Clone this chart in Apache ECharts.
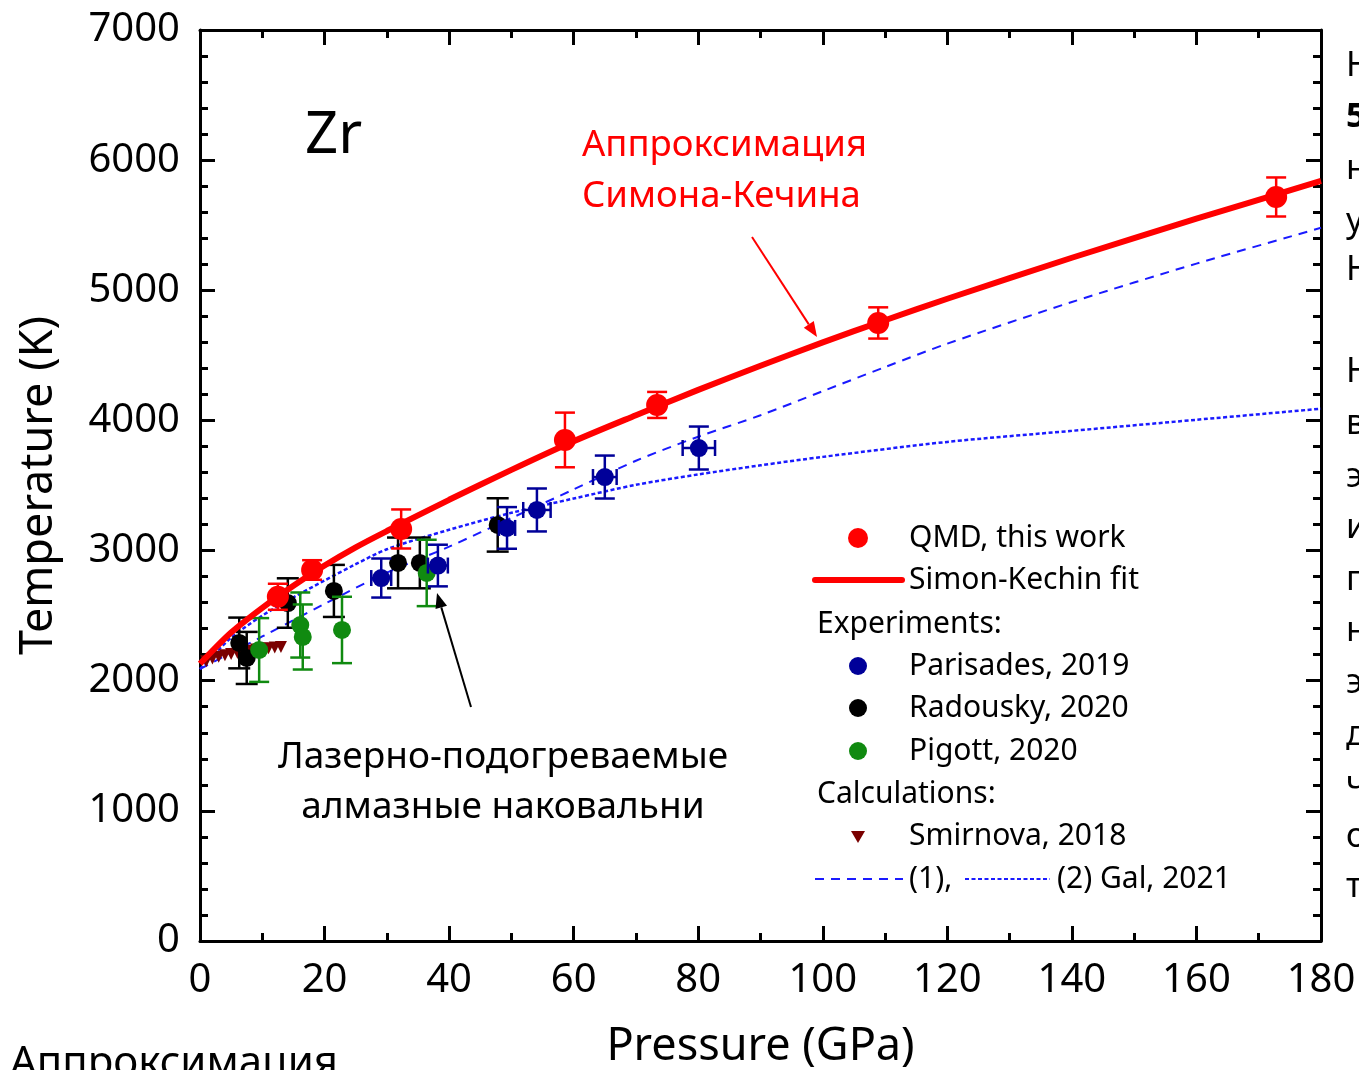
<!DOCTYPE html>
<html><head><meta charset="utf-8">
<script src="https://cdn.jsdelivr.net/npm/echarts@6/dist/echarts.min.js"></script>
<style>html,body{margin:0;padding:0;background:#fff;overflow:hidden}#c{width:1359px;height:1070px}</style>
</head><body><div id="c"></div><script>
// ---- data ----
const qmdP = [12.5, 18.0, 32.3, 58.6, 73.4, 108.9, 172.8];
const qmdT = [2645, 2851, 3166, 3850, 4119, 4749, 5717];
const qmdErr = [100, 75, 150, 210, 100, 120, 150];

const fitP = [0, 5, 10, 15, 20, 25, 30, 40, 50, 60, 70, 80, 90, 100, 110, 120, 140, 160, 180];
const fitT = [2130, 2370, 2560, 2730, 2885, 3025, 3150, 3390, 3620, 3840, 4040, 4235, 4420, 4600, 4770, 4935, 5250, 5550, 5840];

const parP = [29.1, 38.2, 49.3, 54.1, 65.0, 80.1];
const parT = [2789, 2885, 3174, 3312, 3565, 3788];
const parErrP = [1.6, 1.6, 1.3, 2.2, 1.9, 2.6];
const parErrT = [150, 160, 160, 165, 165, 165];

const radP = [6.3, 7.5, 14.1, 21.5, 31.8, 35.3, 47.8];
const radT = [2290, 2175, 2597, 2690, 2905, 2905, 3197];
const radErr = [195, 200, 190, 200, 195, 195, 205];

const pigP = [9.5, 16.1, 16.5, 22.8, 36.4];
const pigT = [2236, 2428, 2336, 2390, 2828];
const pigErr = [245, 250, 250, 255, 255];

const smiP = [1, 2, 3, 4, 5, 6, 7, 8, 9, 10, 11, 12, 13];
const smiT = [2150, 2170, 2185, 2195, 2205, 2215, 2225, 2230, 2240, 2245, 2250, 2255, 2260];

const gal1P = [0, 10, 20, 30, 40, 50, 60, 70, 80, 90, 100, 110, 120, 140, 160, 180];
const gal1T = [2090, 2340, 2590, 2830, 3030, 3250, 3470, 3690, 3875, 4040, 4225, 4410, 4590, 4910, 5205, 5480];

const gal2P = [0, 5, 10, 15, 20, 25, 30, 40, 50, 60, 70, 80, 90, 100, 120, 140, 160, 180];
const gal2T = [2090, 2330, 2500, 2640, 2770, 2895, 3010, 3160, 3290, 3400, 3505, 3585, 3655, 3720, 3835, 3920, 4005, 4090];

// ---- styles ----
const FONT = '"Noto Sans", "DejaVu Sans", sans-serif';
const RED = '#ff0000', NAVY = '#000099', BLK = '#000000', GRN = '#108a10', BRN = '#7a0000', GAL = '#1a1aff';

const chart = echarts.init(document.getElementById('c'), null, {renderer: 'canvas'});

function errBars(color, capW, capH, lw) {
  return function (params, api) {
    const x = api.value(0), y = api.value(1), dx = api.value(2), dy = api.value(3);
    const st = {stroke: color, lineWidth: lw};
    const ch = [];
    if (dy > 0) {
      const a = api.coord([x, y + dy]), b = api.coord([x, y - dy]);
      ch.push({type: 'line', shape: {x1: a[0], y1: a[1], x2: b[0], y2: b[1]}, style: st});
      ch.push({type: 'line', shape: {x1: a[0] - capW / 2, y1: a[1], x2: a[0] + capW / 2, y2: a[1]}, style: st});
      ch.push({type: 'line', shape: {x1: b[0] - capW / 2, y1: b[1], x2: b[0] + capW / 2, y2: b[1]}, style: st});
    }
    if (dx > 0) {
      const l = api.coord([x - dx, y]), r = api.coord([x + dx, y]);
      ch.push({type: 'line', shape: {x1: l[0], y1: l[1], x2: r[0], y2: r[1]}, style: st});
      ch.push({type: 'line', shape: {x1: l[0], y1: l[1] - capH / 2, x2: l[0], y2: l[1] + capH / 2}, style: st});
      ch.push({type: 'line', shape: {x1: r[0], y1: r[1] - capH / 2, x2: r[0], y2: r[1] + capH / 2}, style: st});
    }
    return {type: 'group', children: ch};
  };
}

const zip = (a, b) => a.map((v, i) => [v, b[i]]);

const axisCommon = {
  type: 'value',
  axisLine: {onZero: false, lineStyle: {color: '#000', width: 3}},
  axisTick: {inside: true, length: 15, lineStyle: {color: '#000', width: 3}},
  minorTick: {show: true, length: 8, lineStyle: {color: '#000', width: 3}},
  splitLine: {show: false},
};

function txt(text, x, y, size, color, opts) {
  return {
    type: 'text', z: 100,
    style: {text: text, x: x, y: y, fill: color || '#000', font: (opts && opts.bold ? 'bold ' : '') + size + 'px ' + FONT,
      textAlign: (opts && opts.align) || 'left', textVerticalAlign: 'middle'}
  };
}

const graphics = [];
// Zr label
graphics.push(txt('Zr', 305, 136, 58, '#000'));
// red annotation
graphics.push(txt('Аппроксимация', 582, 146, 36.5, RED));
graphics.push(txt('Симона-Кечина', 582, 197, 36.5, RED));
graphics.push({type: 'line', z: 100, shape: {x1: 752, y1: 237, x2: 808.8, y2: 324.4}, style: {stroke: RED, lineWidth: 2}});
graphics.push({type: 'polygon', z: 100, shape: {points: [[817, 337], [803.8, 327.7], [813.8, 321.1]]}, style: {fill: RED}});
// black annotation
graphics.push(txt('Лазерно-подогреваемые', 503, 757, 37, '#000', {align: 'center'}));
graphics.push(txt('алмазные наковальни', 503, 807, 37, '#000', {align: 'center'}));
graphics.push({type: 'line', z: 100, shape: {x1: 471, y1: 707, x2: 441.3, y2: 607.4}, style: {stroke: '#000', lineWidth: 2}});
graphics.push({type: 'polygon', z: 100, shape: {points: [[437, 593], [447.0, 605.7], [435.5, 609.1]]}, style: {fill: '#000'}});
// legend
graphics.push({type: 'circle', z: 100, shape: {cx: 858, cy: 538, r: 10}, style: {fill: RED}});
graphics.push(txt('QMD, this work', 909, 538, 30));
graphics.push({type: 'line', z: 100, shape: {x1: 815, y1: 580, x2: 902, y2: 580}, style: {stroke: RED, lineWidth: 6, lineCap: 'round'}});
graphics.push(txt('Simon-Kechin fit', 909, 580, 30));
graphics.push(txt('Experiments:', 817, 624, 30));
graphics.push({type: 'circle', z: 100, shape: {cx: 858, cy: 666, r: 9}, style: {fill: NAVY}});
graphics.push(txt('Parisades, 2019', 909, 666, 30));
graphics.push({type: 'circle', z: 100, shape: {cx: 858, cy: 708, r: 9}, style: {fill: BLK}});
graphics.push(txt('Radousky, 2020', 909, 708, 30));
graphics.push({type: 'circle', z: 100, shape: {cx: 858, cy: 751, r: 9}, style: {fill: GRN}});
graphics.push(txt('Pigott, 2020', 909, 751, 30));
graphics.push(txt('Calculations:', 817, 794, 30));
graphics.push({type: 'polygon', z: 100, shape: {points: [[851, 831], [865, 831], [858, 843]]}, style: {fill: BRN}});
graphics.push(txt('Smirnova, 2018', 909, 836, 30));
graphics.push({type: 'line', z: 100, shape: {x1: 815, y1: 879, x2: 903, y2: 879}, style: {stroke: GAL, lineWidth: 2, lineDash: [9, 7]}});
graphics.push(txt('(1),', 909, 879, 30));
graphics.push({type: 'line', z: 100, shape: {x1: 965, y1: 879, x2: 1050, y2: 879}, style: {stroke: GAL, lineWidth: 2, lineDash: [4, 2.5]}});
graphics.push(txt('(2) Gal, 2021', 1057, 879, 30));
// clipped slide text on the right
const sideLetters = ['Н', '5', 'н', 'у', 'Н', 'Н', 'в', 'э', 'и', 'п', 'н', 'э', 'д', 'ч', 'о', 'т'];
const sideY = [66, 117, 169, 222, 270, 372, 424, 477, 528, 580, 631, 683, 735, 785, 837, 887];
sideLetters.forEach((s, i) => graphics.push(txt(s, 1346, sideY[i], 34, '#000', {bold: s === '5'})));
// clipped slide text bottom left
graphics.push(txt('Аппроксимация', 10, 1064, 42, '#000'));

const option = {
  animation: false,
  backgroundColor: '#fff',
  grid: {left: 200, right: 38, top: 30, bottom: 129, containLabel: false, outerBoundsMode: 'none'},
  xAxis: [
    Object.assign({}, axisCommon, {
      min: 0, max: 180, interval: 20, position: 'bottom',
      minorTick: Object.assign({}, axisCommon.minorTick, {splitNumber: 2}),
      axisLabel: {fontSize: 40, color: '#000', fontFamily: FONT, margin: 20},
      name: 'Pressure (GPa)', nameLocation: 'middle', nameGap: 84,
      nameTextStyle: {fontSize: 45, color: '#000', fontFamily: FONT}
    }),
    Object.assign({}, axisCommon, {
      min: 0, max: 180, interval: 20, position: 'top',
      minorTick: Object.assign({}, axisCommon.minorTick, {splitNumber: 2}),
      axisLabel: {show: false}
    })
  ],
  yAxis: [
    Object.assign({}, axisCommon, {
      min: 0, max: 7000, interval: 1000, position: 'left',
      minorTick: Object.assign({}, axisCommon.minorTick, {splitNumber: 5}),
      axisLabel: {fontSize: 40, color: '#000', fontFamily: FONT, margin: 20, formatter: v => String(v)},
      name: 'Temperature (K)', nameLocation: 'middle', nameGap: 138,
      nameTextStyle: {fontSize: 45, color: '#000', fontFamily: FONT}
    }),
    Object.assign({}, axisCommon, {
      min: 0, max: 7000, interval: 1000, position: 'right',
      minorTick: Object.assign({}, axisCommon.minorTick, {splitNumber: 5}),
      axisLabel: {show: false}
    })
  ],
  graphic: graphics,
  series: [
    {name: 'Gal (1)', type: 'line', data: zip(gal1P, gal1T), smooth: 0.3, showSymbol: false, z: 2,
      lineStyle: {color: GAL, width: 2, type: [9, 7]}},
    {name: 'Gal (2)', type: 'line', data: zip(gal2P, gal2T), smooth: 0.3, showSymbol: false, z: 2,
      lineStyle: {color: GAL, width: 2.5, type: [4, 2.5]}},
    {name: 'Smirnova, 2018', type: 'scatter', data: zip(smiP, smiT), symbol: 'triangle', symbolRotate: 180,
      symbolSize: 12, itemStyle: {color: BRN, opacity: 1}, z: 3},
    {name: 'Radousky err', type: 'custom', renderItem: errBars(BLK, 22, 0, 2.5), z: 4,
      data: radP.map((p, i) => [p, radT[i], 0, radErr[i]])},
    {name: 'Radousky, 2020', type: 'scatter', data: zip(radP, radT), symbolSize: 18, itemStyle: {color: BLK, opacity: 1}, z: 4},
    {name: 'Pigott err', type: 'custom', renderItem: errBars(GRN, 20, 0, 2.5), z: 5,
      data: pigP.map((p, i) => [p, pigT[i], 0, pigErr[i]])},
    {name: 'Pigott, 2020', type: 'scatter', data: zip(pigP, pigT), symbolSize: 18, itemStyle: {color: GRN, opacity: 1}, z: 5},
    {name: 'Parisades err', type: 'custom', renderItem: errBars(NAVY, 20, 16, 2.5), z: 6,
      data: parP.map((p, i) => [p, parT[i], parErrP[i], parErrT[i]])},
    {name: 'Parisades, 2019', type: 'scatter', data: zip(parP, parT), symbolSize: 18, itemStyle: {color: NAVY, opacity: 1}, z: 6},
    {name: 'Simon-Kechin fit', type: 'line', data: zip(fitP, fitT), smooth: 0.3, showSymbol: false, z: 7,
      lineStyle: {color: RED, width: 6}},
    {name: 'QMD err', type: 'custom', renderItem: errBars(RED, 20, 0, 2.5), z: 8,
      data: qmdP.map((p, i) => [p, qmdT[i], 0, qmdErr[i]])},
    {name: 'QMD, this work', type: 'scatter', data: zip(qmdP, qmdT), symbolSize: 22, itemStyle: {color: RED, opacity: 1}, z: 8}
  ]
};
chart.setOption(option);
</script></body></html>
